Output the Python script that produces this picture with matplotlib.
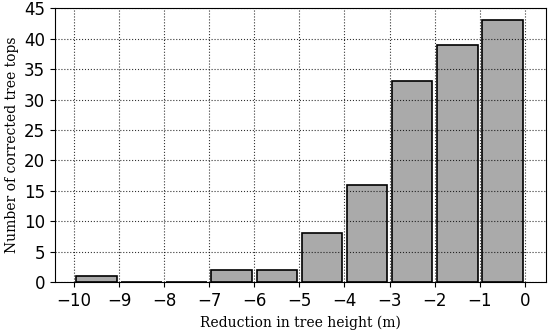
import matplotlib
matplotlib.use("Agg")
import matplotlib.pyplot as plt
import numpy as np

bin_edges = [-10, -9, -8, -7, -6, -5, -4, -3, -2, -1, 0]
counts = [1, 0, 0, 2, 2, 8, 16, 33, 39, 43]
xticks = [-10, -9, -8, -7, -6, -5, -4, -3, -2, -1, 0]
yticks = [0, 5, 10, 15, 20, 25, 30, 35, 40, 45]

plt.rcParams['font.family'] = 'DejaVu Serif'
fig = plt.figure(figsize=(5.5, 3.31), dpi=100)
ax = fig.add_axes([0.1, 0.148, 0.892, 0.827])

centers = np.array(bin_edges[:-1]) + 0.5
ax.hist(centers, bins=bin_edges, weights=counts, rwidth=0.9,
        facecolor='#aaaaaa', edgecolor='black', linewidth=1.2)
ax.set_xlim(-10.42, 0.46)
ax.set_ylim(0, 45)
ax.set_xticks(xticks)
ax.set_yticks(yticks)
ax.grid(True, linestyle=':', color='black', linewidth=0.8, alpha=0.8)
ax.tick_params(labelsize=12)
for lab in ax.get_xticklabels() + ax.get_yticklabels():
    lab.set_family('DejaVu Sans')
ax.set_xlabel('Reduction in tree height (m)', fontsize=10)
ax.set_ylabel('Number of corrected tree tops', fontsize=10)
fig.savefig('out.png', dpi=100)
